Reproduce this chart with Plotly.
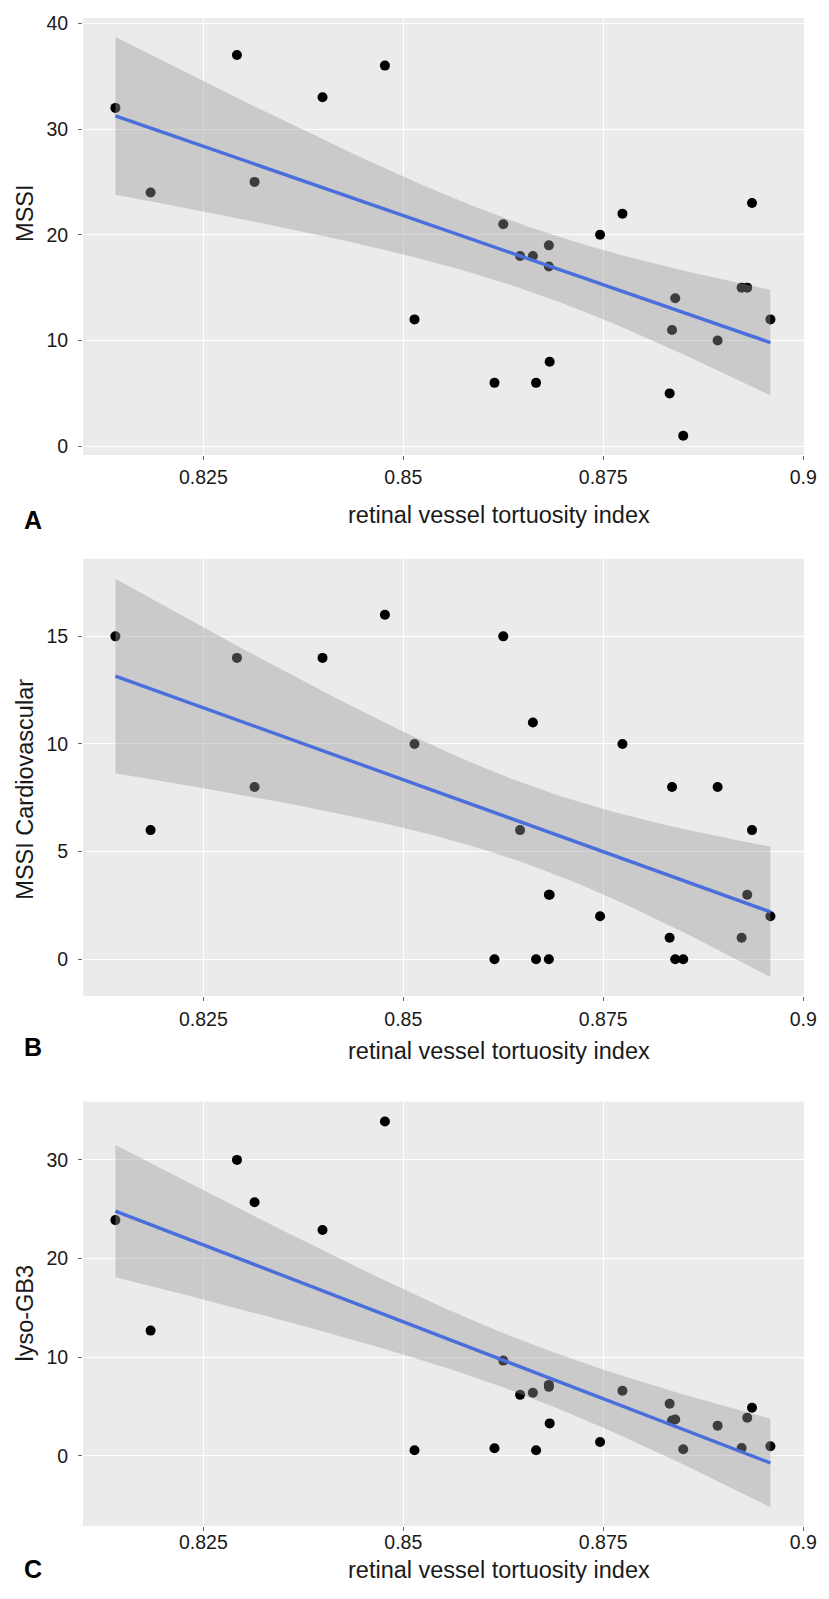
import numpy as np
import plotly.graph_objects as go

# ---- data ----
tortuosity = [0.8140, 0.8184, 0.8292, 0.8314, 0.8399, 0.8477, 0.8514, 0.8614, 0.8625,
              0.8646, 0.8662, 0.8666, 0.8682, 0.8682, 0.8683, 0.8746, 0.8774, 0.8833,
              0.8836, 0.8840, 0.8850, 0.8893, 0.8923, 0.8930, 0.8936, 0.8959]
mssi = [32, 24, 37, 25, 33, 36, 12, 6, 21, 18, 18, 6, 19, 17, 8, 20, 22, 5,
        11, 14, 1, 10, 15, 15, 23, 12]
mssi_cardio = [15, 6, 14, 8, 14, 16, 10, 0, 15, 6, 11, 0, 3, 0, 3, 2, 10, 1,
               8, 0, 0, 8, 1, 3, 6, 2]
lyso_gb3 = [23.9, 12.7, 30.0, 25.7, 22.9, 33.9, 0.57, 0.78, 9.66, 6.19, 6.4, 0.57, 7.2,
            7.0, 3.3, 1.41, 6.6, 5.28, 3.6, 3.7, 0.68, 3.07, 0.81, 3.87, 4.88, 0.98]

x_ticks = [0.825, 0.85, 0.875, 0.9]
x_tick_labels = ["0.825", "0.85", "0.875", "0.9"]
y_titles = ["MSSI", "MSSI Cardiovascular", "lyso-GB3"]
y_ticks = [[0, 10, 20, 30, 40], [0, 5, 10, 15], [0, 10, 20, 30]]
panel_labels = ["A", "B", "C"]
x_title = "retinal vessel tortuosity index"

T_CRIT = 2.0639  # t(0.975, df = n-2 = 24), as used by a 95% lm confidence band


def lm_band(xv, yv, npts=80):
    X = np.asarray(xv, float)
    Y = np.asarray(yv, float)
    n = len(X)
    xm = X.mean()
    sxx = ((X - xm) ** 2).sum()
    b = ((X - xm) * (Y - Y.mean())).sum() / sxx
    a = Y.mean() - b * xm
    s = np.sqrt(((Y - (a + b * X)) ** 2).sum() / (n - 2))
    xs = np.linspace(X.min(), X.max(), npts)
    yh = a + b * xs
    se = s * np.sqrt(1.0 / n + (xs - xm) ** 2 / sxx)
    return xs, yh, yh - T_CRIT * se, yh + T_CRIT * se


# ---- layout geometry (pixels) ----
W, H = 829, 1599
ML, MR, MT, MB = 83, 16, 12, 73
PW = W - ML - MR
PH = H - MT - MB
panels_px = [(12, 450.7), (555, 994), (1100, 1526)]
y_ranges = [[-0.82, 40.5], [-1.71, 18.6], [-7.1, 35.9]]
x_range = [0.80995, 0.9001]
xtitle_y = [511, 1049, 1570]
label_y = [516, 1045, 1569]
ytitle_y = [208, 786, 1312]
tick_standoff = [1, 1, -5]


def py2paper(py):
    return (H - MB - py) / PH


def px2paper(px):
    return (px - ML) / PW


FONT = "Liberation Sans, Arial, sans-serif"
fig = go.Figure()
series = [mssi, mssi_cardio, lyso_gb3]
annotations = []
for i, yv in enumerate(series):
    xa = "x" if i == 0 else f"x{i+1}"
    ya = "y" if i == 0 else f"y{i+1}"
    fig.add_trace(go.Scatter(x=tortuosity, y=yv, mode="markers", xaxis=xa, yaxis=ya,
                             marker=dict(color="black", size=10, line=dict(width=0)),
                             showlegend=False, hoverinfo="skip"))
    xs, yh, lo, hi = lm_band(tortuosity, yv)
    fig.add_trace(go.Scatter(x=np.concatenate([xs, xs[::-1]]),
                             y=np.concatenate([hi, lo[::-1]]),
                             fill="toself", fillcolor="rgba(153,153,153,0.4)",
                             line=dict(width=0), mode="lines", xaxis=xa, yaxis=ya,
                             showlegend=False, hoverinfo="skip"))
    fig.add_trace(go.Scatter(x=xs, y=yh, mode="lines", xaxis=xa, yaxis=ya,
                             line=dict(color="#4a6fdc", width=3.4),
                             showlegend=False, hoverinfo="skip"))

    top, bot = panels_px[i]
    axis_common = dict(showgrid=True, gridcolor="white", gridwidth=1.2, zeroline=False,
                       showline=False, ticks="outside", ticklen=4, tickwidth=1,
                       tickcolor="#666", tickfont=dict(family=FONT, size=19.5, color="#1a1a1a"))
    xkey = "xaxis" if i == 0 else f"xaxis{i+1}"
    ykey = "yaxis" if i == 0 else f"yaxis{i+1}"
    fig.update_layout(**{
        xkey: dict(domain=[0, 1], range=x_range, anchor=ya, tickmode="array",
                   tickvals=x_ticks, ticktext=x_tick_labels,
                   ticklabelstandoff=tick_standoff[i], ticklabeloverflow="allow",
                   **axis_common),
        ykey: dict(domain=[py2paper(bot), py2paper(top)], range=y_ranges[i], anchor=xa,
                   tickmode="array", tickvals=y_ticks[i],
                   ticktext=[str(v) for v in y_ticks[i]], ticklabelstandoff=6,
                   **axis_common),
    })
    annotations.append(dict(text=x_title, x=px2paper(504), y=py2paper(xtitle_y[i]),
                            xref="paper", yref="paper", showarrow=False,
                            xanchor="center", yanchor="middle",
                            font=dict(family=FONT, size=23.5, color="#1a1a1a")))
    annotations.append(dict(text=f"<b>{panel_labels[i]}</b>", x=px2paper(32),
                            y=py2paper(label_y[i]), xref="paper", yref="paper",
                            showarrow=False, xanchor="center", yanchor="middle",
                            font=dict(family=FONT, size=25, color="black")))
    annotations.append(dict(text=y_titles[i], x=px2paper(24), y=py2paper(ytitle_y[i]),
                            xref="paper", yref="paper", showarrow=False, textangle=-90,
                            xanchor="center", yanchor="middle",
                            font=dict(family=FONT, size=23.5, color="#1a1a1a")))

fig.update_layout(width=W, height=H, margin=dict(l=ML, r=MR, t=MT, b=MB),
                  paper_bgcolor="white", plot_bgcolor="#EBEBEB",
                  annotations=annotations, font=dict(family=FONT))
fig.write_html("out.html", config={"displayModeBar": False},
               post_script="document.body.style.margin='0';"
                           "document.body.style.overflow='hidden';")
